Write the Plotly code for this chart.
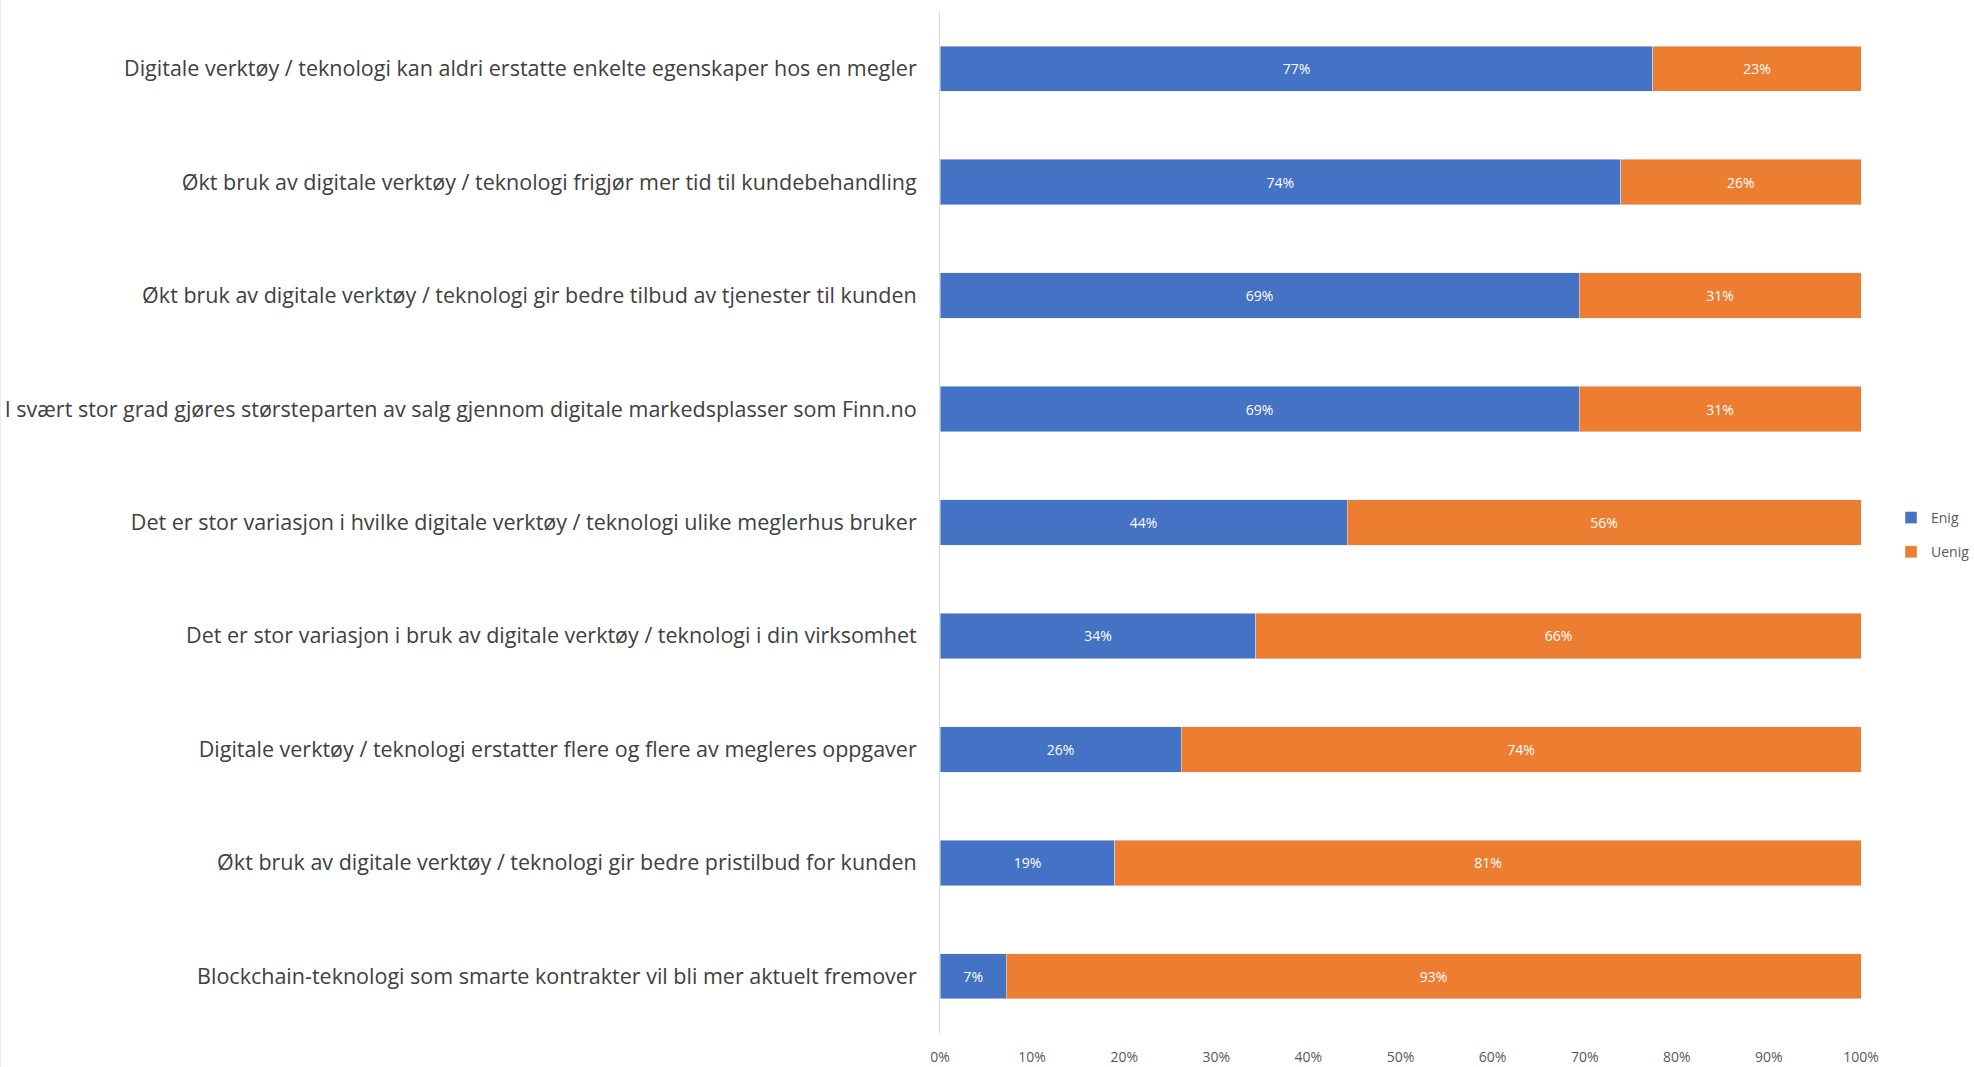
import plotly.graph_objects as go

categories = [
    "Digitale verktøy / teknologi kan aldri erstatte enkelte egenskaper hos en megler",
    "Økt bruk av digitale verktøy / teknologi frigjør mer tid til kundebehandling",
    "Økt bruk av digitale verktøy / teknologi gir bedre tilbud av tjenester til kunden",
    "I svært stor grad gjøres størsteparten av salg gjennom digitale markedsplasser som Finn.no",
    "Det er stor variasjon i hvilke digitale verktøy / teknologi ulike meglerhus bruker",
    "Det er stor variasjon i bruk av digitale verktøy / teknologi i din virksomhet",
    "Digitale verktøy / teknologi erstatter flere og flere av megleres oppgaver",
    "Økt bruk av digitale verktøy / teknologi gir bedre pristilbud for kunden",
    "Blockchain-teknologi som smarte kontrakter vil bli mer aktuelt fremover",
]
enig = [77.4, 73.9, 69.4, 69.4, 44.2, 34.3, 26.2, 19.0, 7.2]
uenig = [22.6, 26.1, 30.6, 30.6, 55.8, 65.7, 73.8, 81.0, 92.8]
tick_vals = [0, 10, 20, 30, 40, 50, 60, 70, 80, 90, 100]
tick_text = ["0%", "10%", "20%", "30%", "40%", "50%", "60%", "70%", "80%", "90%", "100%"]

FONT = "Open Sans"

fig = go.Figure()
fig.add_trace(go.Bar(
    y=categories, x=enig, name="Enig", orientation="h",
    marker=dict(color="#4472C4"),
    texttemplate="%{x:.0f}%", textposition="inside", insidetextanchor="middle",
    textfont=dict(color="white", size=14, family=FONT),
    legendgroup="a",
))
fig.add_trace(go.Bar(
    y=categories, x=uenig, name="Uenig", orientation="h",
    marker=dict(color="#ED7D31"),
    texttemplate="%{x:.0f}%", textposition="inside", insidetextanchor="middle",
    textfont=dict(color="white", size=14, family=FONT),
    legendgroup="b",
))

fig.update_layout(
    barmode="stack",
    bargap=0.6,
    width=1974, height=1067,
    margin=dict(l=940, r=113, t=12, b=34, autoexpand=False),
    paper_bgcolor="white", plot_bgcolor="white",
    font=dict(family=FONT, color="#595959"),
    uniformtext=dict(mode=False),
    legend=dict(
        xref="container", yref="container",
        x=1891 / 1974, y=1 - 502 / 1067, xanchor="left", yanchor="top",
        font=dict(size=14, color="#595959", family=FONT),
        tracegroupgap=13, itemwidth=30,
        bgcolor="rgba(0,0,0,0)",
    ),
    xaxis=dict(
        range=[0, 100], tickvals=tick_vals, ticktext=tick_text,
        showgrid=False, zeroline=False, showline=False,
        ticklabelstandoff=14,
        tickfont=dict(size=14, color="#595959", family=FONT),
        fixedrange=True,
    ),
    yaxis=dict(
        autorange="reversed", showgrid=False, zeroline=False,
        showline=True, linecolor="#D9D9D9", linewidth=1,
        ticks="", ticklabelstandoff=18,
        tickfont=dict(size=21.5, color="#404040", family=FONT),
    ),
    shapes=[dict(type="line", xref="paper", yref="paper", x0=-940 / 921, x1=-940 / 921, y0=-1, y1=2,
                 line=dict(color="#D9D9D9", width=1))],
)

fig.write_html("out.html")
